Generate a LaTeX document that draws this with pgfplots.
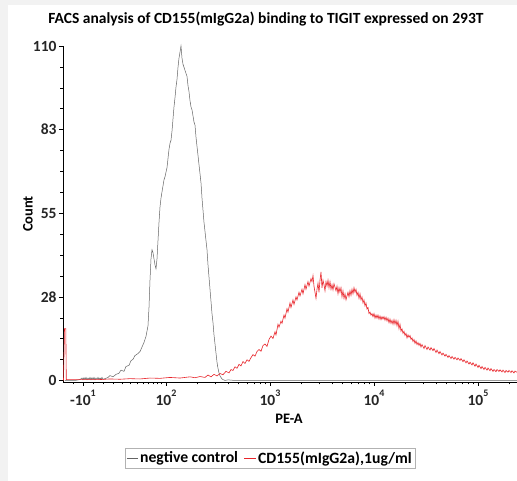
\documentclass[border=0pt]{standalone}
\usepackage{fontspec}
\setmainfont{Carlito}
\usepackage{pgfplots}
\pgfplotsset{compat=1.18}
\definecolor{negc}{RGB}{100,100,100}
\definecolor{redc}{RGB}{232,36,42}
\newcommand{\ex}[2]{#1\raisebox{0.6em}{\fontsize{10}{10}\selectfont #2}}
\begin{document}
\begin{tikzpicture}
\path[use as bounding box] (0,0) rectangle (517pt,481pt);
\fill[black!5] (0,0) rectangle (517pt,481pt);
\fill[white] (8pt,0) rectangle (517pt,476pt);
\begin{axis}[
  at={(63pt,99pt)}, anchor=south west,
  scale only axis, width=454pt, height=336pt,
  xmin=63, xmax=517, ymin=-0.5, ymax=110,
  axis lines=left, axis line style={-, line width=0.6pt},
  tick align=outside, major tick length=4pt, minor tick length=2.5pt,
  every tick/.style={black, line width=0.5pt},
  xtick={83,166,270,374,478},
  xticklabels={\ex{-10}{1},\ex{10}{2},\ex{10}{3},\ex{10}{4},\ex{10}{5}},
  minor xtick={73,93,103,113,122,130,137,143,148,153,157,161,
    197.3,215.6,228.6,238.7,246.9,253.9,259.9,265.2,
    301.3,319.6,332.6,342.7,350.9,357.9,363.9,369.2,
    405.3,423.6,436.6,446.7,454.9,461.9,467.9,473.2,509.3},
  ytick={0,27.5,55,82.5,110},
  yticklabels={0,28,55,83,110},
  minor ytick={6.875,13.75,20.625,34.375,41.25,48.125,61.875,68.75,75.625,89.375,96.25,103.125},
  tick label style={font=\bfseries\fontsize{15.5}{17}\selectfont, text=black!85},
  yticklabel style={xshift=1pt},
  xlabel={PE-A}, ylabel={Count},
  label style={font=\bfseries\fontsize{14.5}{16}\selectfont},
  xlabel style={at={(axis description cs:0.498,-0.11)}, anchor=center},
  ylabel style={at={(axis description cs:-0.077,0.5)}, anchor=center},
  title={FACS analysis of CD155(mIgG2a) binding to TIGIT expressed on 293T},
  title style={at={(axis description cs:0.447,1.0625)}, anchor=center, font=\bfseries\fontsize{15.5}{17}\selectfont},
  legend style={at={(axis description cs:0.456,-0.226)}, anchor=center, legend columns=2,
    draw=black!30, font=\bfseries\fontsize{15.7}{17}\selectfont, inner sep=1.5pt,
    /tikz/every even column/.append style={column sep=4pt}},
  legend image code/.code={\draw[#1] (0,0) -- (0.4cm,0);},
  clip=false,
]
\addplot[negc, line width=0.5pt] coordinates {
(65,0)(75,0)(80,0.3)(82,0.8)(83,0.2)(84,0.9)(85,0.3)(86,1.0)(87,0.2)(88,0.8)(89,0.3)(90,1.0)(91,0.2)(92,0.9)(93,0.3)(94,1.0)(95,0.2)(96,0.8)(97,0.4)(98,1.0)(99,0.3)(100,0.8)(101,0.5)(102,1.0)(103,0.4)
(105,0.6)(108,1.0)(110,1.6)(113,1.2)(116,2.0)(119,2.4)(121,3.4)(124,3.0)(126,4.6)(129,5.0)(131,6.5)(133,7.0)(135,8.2)(137,8.6)(140,9.5)(142,11.0)(144,12.5)(146,14.5)(148,18)(149,24)(150,33)(151,40)(152,43)(153,42)(154,40)(155,38)(156,36.7)(157,40)(158,46)(159,52)(160,57)(161,60)(162,62)(163,64)(164,66)(165,67)(166,68.5)(167,70)(168,73)(169,76)(170,78)(171,79)(172,82)(173,86)(174,90)(175,93)(176,96.5)(177,99)(178,103)(179,106)(180,108)(181,110)(182,106)(183,104)(184,103)(185,102)(186,101)(187,100)(188,97)(189,95)(190,92)(191,90)(192,89)(193,87)(194,85)(195,84)(196,80)(197,77)(198,74)(199,71)(200,68)(201,65)(202,60)(203,56)(204,52)(205,49)(206,46)(207,43)(208,38)(209,34)(210,30)(211,26)(212,22)(213,19)(214,15)(215,12)(216,9)(217,6)(218,4)(219,2.5)(220,1.5)(221,1.0)(222,0.5)(223,0.3)(225,0)(228,0.2)(235,0)(517,0)
};
\addlegendentry{negtive control}
\addplot[redc, line width=0.6pt] coordinates {
(63.5,0)(64.5,17)(65.8,17)(66.3,0.3)(100,0.3)(110,0.5)(120,0.4)(130,0.6)(140,0.5)(150,0.8)(160,0.7)(170,1.0)(180,0.8)(190,1.2)(195,0.9)(200,1.3)(205,1.0)(208,1.8)(211,1.2)(214,2.0)(217,1.5)(220,2.3)(223,1.9)(226,3.0)(229,2.5)(231,3.6)(233,3.3)(235,4.5)(237,4.0)(239,5.3)(241,4.8)(243,6.2)(245,5.6)(247,6.8)(249,6.3)(251,7.5)(253,8.5)(255,8.0)(257,9.5)(259,10.2)(261,9.6)(263,11.5)(265,12.0)(267,11.2)(269,13.5)(271,14.6)(273,13.8)(275,16.0)(276,15.0)(278,18.5)(279,17.5)(281,19.5)(282,18.8)(284,21.5)(285,20.5)(287,23.6)(288,22.5)(290,25.5)(291,24.0)(293,26.5)(294,25.0)(296,27.5)(297,26.5)(299,29.0)(300,27.8)(302,30.0)(303,28.5)(305,31.5)(306,30.0)(308,32.5)(309,31.0)(311,33.5)(312,32.5)(313,34.5)(314,31)(316,27)(317,30)(318,32)(319,29)(320,33)(321,35.7)(322,30.5)(323,33)(324,31.5)(325,29.5)(326,32.5)(327,31)(328,33)(329,30.5)(330,32.5)(331,30)(332,31.5)(333,29.8)(334,31.8)(336,29.5)(337,31)(338,28.5)(339,30.5)(340,29)(341,30.5)(342,27.5)(343,29.5)(344,27)(345,28.5)(346,26.5)(347,27.8)(348,29)(349,27.5)(350,29.5)(351,28)(352,30)(353,28.5)(354,30.5)(355,29)(356,30)(357,28)(358,29)(359,27)(360,28.5)(361,26.5)(362,27.5)(363,25.5)(364,26.5)(365,24.5)(366,25.5)(367,23.5)(368,24)(369,22)(370,22.5)(371,21.5)(372,22)(373,21)(374,22)(375,20.5)(376,21.5)(377,20.5)(378,21.5)(379,20.2)(380,21.2)(381,20.0)(382,21.0)(383,20.2)(384,21.0)(385,19.8)(386,20.8)(387,19.6)(388,20.5)(389,19.0)(390,20.2)(391,18.8)(392,19.8)(393,18.5)(394,20.0)(395,18.5)(396,19.8)(397,18.0)(398,19.5)(399,17.0)(400,18.5)(401,16.2)(402,17.0)(403,15.5)(404,16.2)(405,14.8)(406,15.5)(407,14.0)(408,15.0)(409,14.2)(410,14.8)(411,13.5)(412,14.0)(413,12.8)(414,13.5)(415,12.2)(416,13.0)(417,11.8)(418,12.5)(419,11.5)(420,12.2)(421,11.0)(422,11.8)(424,10.5)(425,11.5)(427,10.2)(428,11.0)(430,10.0)(431,10.8)(433,9.8)(434,10.5)(436,9.2)(437,10.0)(439,8.8)(440,9.5)(442,8.4)(443,9.0)(445,8.0)(446,8.6)(448,7.6)(449,8.2)(451,7.2)(452,7.9)(454,7.0)(455,7.6)(457,6.8)(458,7.4)(460,6.6)(461,7.2)(463,6.2)(464,6.8)(466,5.8)(467,6.4)(469,5.4)(470,6.0)(472,5.1)(473,5.8)(475,4.7)(476,5.4)(478,4.3)(479,5.0)(481,3.9)(482,4.6)(484,3.6)(485,4.3)(487,3.4)(488,4.1)(490,3.2)(491,3.9)(493,3.0)(494,3.6)(496,2.9)(497,3.6)(499,3.0)(500,3.5)(502,2.8)(503,3.4)(505,2.6)(506,3.3)(508,2.7)(509,3.3)(511,2.6)(512,3.2)(514,2.5)(515,3.1)(517,2.7)
};
\addlegendentry{CD155(mIgG2a),1ug/ml}
\end{axis}
\end{tikzpicture}
\end{document}
